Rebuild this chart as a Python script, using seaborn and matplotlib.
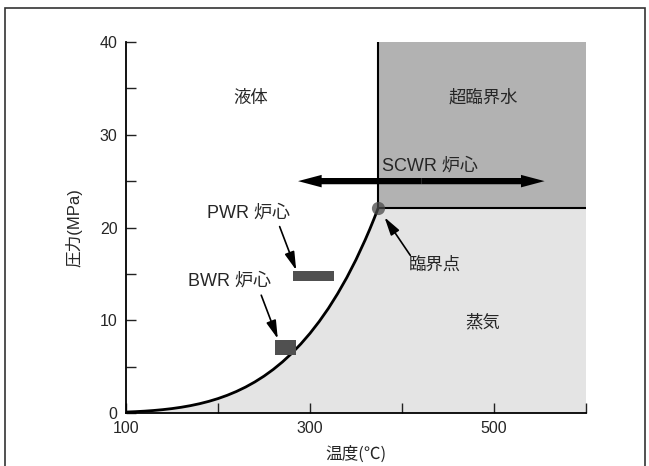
import matplotlib
matplotlib.use("Agg")
import matplotlib.pyplot as plt
from matplotlib.patches import Rectangle, FancyArrowPatch
from matplotlib.ticker import MultipleLocator, FixedLocator
import seaborn as sns
import pandas as pd

# saturation curve of water (temperature in C, pressure in MPa)
temp_c = [100, 110, 120, 130, 140, 150, 160, 170, 180, 190, 200, 210, 220, 230, 240,
          250, 260, 270, 280, 290, 300, 310, 320, 330, 340, 350, 360, 365, 370, 374]
p_sat = [0.101, 0.143, 0.199, 0.270, 0.362, 0.476, 0.618, 0.792, 1.003, 1.255, 1.555,
         1.908, 2.320, 2.797, 3.347, 3.976, 4.692, 5.503, 6.417, 7.442, 8.588, 9.865,
         11.28, 12.86, 14.60, 16.53, 18.67, 19.82, 21.04, 22.06]

crit_t = 374
crit_p = 22.06
t_max = 600
p_max = 40

# reactor core operating ranges: (t_min, t_max, p_min, p_max)
bwr_core = [262, 285, 6.3, 7.9]
pwr_core = [282, 326, 14.2, 15.3]
scwr_range = [287, 555]
scwr_p = 25

region_labels = ["液体", "超臨界水", "蒸気"]
region_pos = [(235, 34.0), (488, 34.0), (488, 9.8)]

x_tick_labels = [100, 300, 500]
y_tick_labels = [0, 10, 20, 30, 40]

sns.set_theme(style="ticks")
plt.rcParams["font.family"] = ["Liberation Sans", "Noto Sans CJK JP"]

fig = plt.figure(figsize=(6.49, 4.66), dpi=100)
ax = fig.add_axes([126 / 649, 1 - 413 / 466, 460 / 649, 371 / 466])

df = pd.DataFrame({"T": temp_c, "P": p_sat})

# vapor region (below the curve and below the critical pressure)
vap_x = temp_c + [t_max, t_max, temp_c[0]]
vap_y = p_sat + [crit_p, 0, 0]
ax.fill(vap_x, vap_y, color="#e4e4e4", lw=0, zorder=0)
# supercritical region
ax.fill_between([crit_t, t_max], crit_p, p_max, color="#b2b2b2", lw=0, zorder=0)

sns.lineplot(data=df, x="T", y="P", color="black", lw=2, ax=ax, zorder=3)
ax.plot([crit_t, crit_t], [crit_p, p_max], color="black", lw=1.5, zorder=3)
ax.plot([crit_t, t_max], [crit_p, crit_p], color="black", lw=1.5, zorder=3)
ax.plot([crit_t], [crit_p], "o", ms=9.5, color="#4a4a4a", alpha=0.75, mec="none", zorder=4)

for core in [bwr_core, pwr_core]:
    ax.add_patch(Rectangle((core[0], core[2]), core[1] - core[0], core[3] - core[2],
                           color="#505050", lw=0, zorder=5))

# SCWR double arrow
mid = (scwr_range[0] + scwr_range[1]) / 2
for end in scwr_range:
    ax.add_patch(FancyArrowPatch((mid, scwr_p), (end, scwr_p),
                                 arrowstyle="simple,head_length=17,head_width=9,tail_width=4.5",
                                 mutation_scale=1, color="black", lw=0, zorder=6,
                                 shrinkA=0, shrinkB=0))
ax.text(crit_t + 4, 26.6, "SCWR 炉心", fontsize=13, va="center", ha="left", zorder=7)

# small annotation arrows
small_arrow = dict(arrowstyle="-|>,head_length=11,head_width=3", mutation_scale=1,
                   color="black", lw=1.2, shrinkA=0, shrinkB=0)
ax.text(233, 21.6, "PWR 炉心", fontsize=13, ha="center", va="center")
ax.annotate("", xy=(285, 15.4), xytext=(267, 20.1), arrowprops=small_arrow)
ax.text(212, 14.2, "BWR 炉心", fontsize=13, ha="center", va="center")
ax.annotate("", xy=(265, 8.0), xytext=(247, 12.7), arrowprops=small_arrow)
ax.text(436, 16.0, "臨界点", fontsize=12.5, ha="center", va="center")
ax.annotate("", xy=(381, 21.1), xytext=(409, 17.0), arrowprops=small_arrow)

for lab, (tx, ty) in zip(region_labels, region_pos):
    ax.text(tx, ty, lab, fontsize=12.5, ha="center", va="center")

ax.set_xlim(100, t_max)
ax.set_ylim(0, p_max)
ax.set_xticks(x_tick_labels)
ax.xaxis.set_minor_locator(FixedLocator([200, 400, 600]))
ax.set_yticks(y_tick_labels)
ax.yaxis.set_minor_locator(MultipleLocator(5))
ax.tick_params(which="both", direction="in", length=7, width=1, color="#222222")
ax.tick_params(axis="both", which="major", labelsize=11.5, pad=6)
sns.despine(ax=ax)
for s in ["left", "bottom"]:
    ax.spines[s].set_linewidth(1.3)
    ax.spines[s].set_color("black")
ax.set_facecolor("white")

ax.set_xlabel("温度(℃)", fontsize=12, family=["Noto Sans CJK JP"])
ax.set_ylabel("圧力(MPa)", fontsize=12, family=["Liberation Sans", "Noto Sans CJK JP"])
ax.xaxis.set_label_coords(0.5, -0.088)
ax.yaxis.set_label_coords(-0.094, 0.5)

# outer frame (open at the bottom)
fig.add_artist(Rectangle((5 / 649, -0.05), 640 / 649, 1.05 - 7.5 / 466,
                         transform=fig.transFigure, fill=False, lw=1.2, ec="#333333"))

fig.savefig("out.png", dpi=100)
